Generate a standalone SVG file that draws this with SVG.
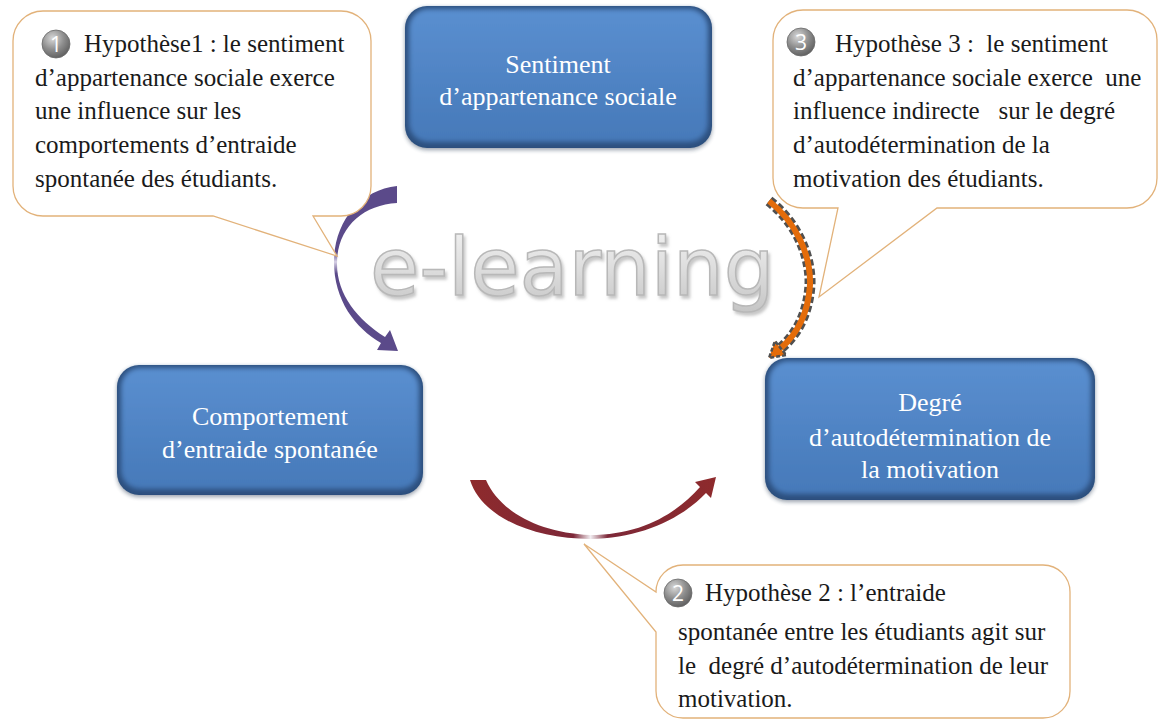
<svg xmlns="http://www.w3.org/2000/svg" width="1160" height="723" viewBox="0 0 1160 723">
<defs>
<style>
.ct{font-family:"Liberation Serif","Times New Roman",serif;font-size:25px;fill:#1a1a1a}
.nt{font-family:"Liberation Serif","Times New Roman",serif;font-size:26px;fill:#ffffff;text-anchor:middle}
.callout{fill:#ffffff;stroke:#e2b27a;stroke-width:1.3}
.rim{fill:#2c4f7e}
.face{fill:url(#blue)}
.bd{fill:url(#badge);stroke:#6a6a6a;stroke-width:0.8}
.bn{font-family:"Open Sans","Liberation Sans",sans-serif;font-size:21px;fill:#ffffff;text-anchor:middle}
.el{font-family:"DejaVu Sans",Verdana,sans-serif;font-size:80px}
</style>
<linearGradient id="blue" x1="0" y1="0" x2="0" y2="1">
<stop offset="0" stop-color="#5a8fd0"/>
<stop offset="1" stop-color="#4679b9"/>
</linearGradient>
<radialGradient id="badge" cx="0.38" cy="0.3" r="0.8">
<stop offset="0" stop-color="#d8d8d8"/>
<stop offset="0.5" stop-color="#8e8e8e"/>
<stop offset="1" stop-color="#555555"/>
</radialGradient>
<linearGradient id="elg" x1="0" y1="0" x2="0" y2="1">
<stop offset="0" stop-color="#f4f4f4"/>
<stop offset="0.5" stop-color="#dedede"/>
<stop offset="1" stop-color="#c4c4c4"/>
</linearGradient>
<linearGradient id="purp" x1="0" y1="0" x2="0" y2="1">
<stop offset="0" stop-color="#5b4a8a"/>
<stop offset="0.4" stop-color="#5b4a8a"/>
<stop offset="0.46" stop-color="#d8d2e6"/>
<stop offset="0.53" stop-color="#5b4a8a"/>
<stop offset="1" stop-color="#5b4a8a"/>
</linearGradient>
<linearGradient id="red" x1="0" y1="0" x2="1" y2="0">
<stop offset="0" stop-color="#8e2a2c"/>
<stop offset="0.42" stop-color="#7d2838"/>
<stop offset="0.49" stop-color="#f2eef2"/>
<stop offset="0.56" stop-color="#7d2838"/>
<stop offset="1" stop-color="#8e2a2c"/>
</linearGradient>
<filter id="soft" x="-5%" y="-5%" width="110%" height="110%">
<feGaussianBlur stdDeviation="2.5"/>
</filter>
<filter id="shd" x="-10%" y="-10%" width="120%" height="130%">
<feGaussianBlur stdDeviation="2"/>
</filter>
<filter id="eshd" x="-5%" y="-10%" width="110%" height="130%">
<feGaussianBlur in="SourceAlpha" stdDeviation="1.8" result="b"/>
<feOffset in="b" dx="2" dy="3" result="o"/>
<feFlood flood-color="#9a9a9a" flood-opacity="0.55"/>
<feComposite in2="o" operator="in" result="s"/>
<feMerge><feMergeNode in="s"/><feMergeNode in="SourceGraphic"/></feMerge>
</filter>
</defs>
<rect width="1160" height="723" fill="#ffffff"/>

<g id="elearning">
<text class="el" x="370" y="295" fill="url(#elg)" stroke="#b8b8b8" stroke-width="1.5" filter="url(#eshd)">e-learning</text>
</g>

<g id="connectors">
<path id="arrow-h1" fill="url(#purp)" d="M397,186 C360,190 334,222 334,262 C334,300 355,328 381,343 L377,350 L398,351 L390,330 L385,337 C358,320 337,295 337,264 C337,228 362,205 397,203 Z"/>
<path id="arrow-h2" fill="url(#red)" d="M470,480 L486,480 C500,512 540,533 590,535 C640,535 675,515 700,487 L695,482 L716,477 L711,498 L706,493 C680,520 640,538 590,539 C535,539 482,518 470,480 Z"/>
<g id="arrow-h3">
<path d="M769,201 C796,222 811,255 810,285 C808,315 796,335 781,348" fill="none" stroke="#505050" stroke-width="11" stroke-dasharray="6 3"/>
<path d="M769,201 C796,222 811,255 810,285 C808,315 796,335 781,348" fill="none" stroke="#e46c0a" stroke-width="6"/>
<polygon points="786,355 769,358 775,341" fill="#e46c0a" stroke="#505050" stroke-width="2.5" stroke-dasharray="4 2"/>
</g>
</g>

<g id="node-sentiment">
<rect x="405" y="8" width="307" height="142" rx="22" fill="#1c2e48" opacity="0.45" filter="url(#shd)"/>
<rect class="rim" x="405" y="6" width="307" height="142" rx="22"/>
<rect class="face" x="409" y="9" width="299" height="133" rx="19" filter="url(#soft)"/>
<text class="nt" x="558" y="73">Sentiment</text>
<text class="nt" x="558" y="105">d’appartenance sociale</text>
</g>

<g id="node-comportement">
<rect x="117" y="367" width="306" height="130" rx="22" fill="#1c2e48" opacity="0.45" filter="url(#shd)"/>
<rect class="rim" x="117" y="365" width="306" height="130" rx="22"/>
<rect class="face" x="121" y="368" width="298" height="121" rx="19" filter="url(#soft)"/>
<text class="nt" x="270" y="425">Comportement</text>
<text class="nt" x="270" y="458">d’entraide spontanée</text>
</g>

<g id="node-degre">
<rect x="765" y="360" width="330" height="142" rx="22" fill="#1c2e48" opacity="0.45" filter="url(#shd)"/>
<rect class="rim" x="765" y="358" width="330" height="142" rx="22"/>
<rect class="face" x="769" y="361" width="322" height="133" rx="19" filter="url(#soft)"/>
<text class="nt" x="930" y="411">Degré</text>
<text class="nt" x="930" y="446">d’autodétermination de</text>
<text class="nt" x="930" y="478">la motivation</text>
</g>

<g id="callout-h1">
<path class="callout" d="M43,11 H341 A30,30 0 0 1 371,41 V186 A30,30 0 0 1 341,216 H313 L337,256 L213,216 H43 A30,30 0 0 1 13,186 V41 A30,30 0 0 1 43,11 Z"/>
<circle class="bd" cx="56" cy="44" r="14"/>
<text class="bn" x="56" y="52">1</text>
<text class="ct" x="84" y="52">Hypothèse1 : le sentiment</text>
<text class="ct" x="35" y="86">d’appartenance sociale exerce</text>
<text class="ct" x="35" y="119">une influence sur les</text>
<text class="ct" x="35" y="153">comportements d’entraide</text>
<text class="ct" x="35" y="187">spontanée des étudiants.</text>
</g>

<g id="callout-h3">
<path class="callout" d="M803,10 H1127 A30,30 0 0 1 1157,40 V178 A30,30 0 0 1 1127,208 H937 L819,297 L838,208 H803 A30,30 0 0 1 773,178 V40 A30,30 0 0 1 803,10 Z"/>
<circle class="bd" cx="801" cy="42" r="14"/>
<text class="bn" x="801" y="50">3</text>
<text class="ct" x="835" y="52" xml:space="preserve">Hypothèse 3 :  le sentiment</text>
<text class="ct" x="793" y="86" xml:space="preserve">d’appartenance sociale exerce  une</text>
<text class="ct" x="793" y="119" xml:space="preserve">influence indirecte   sur le degré</text>
<text class="ct" x="793" y="153">d’autodétermination de la</text>
<text class="ct" x="793" y="187">motivation des étudiants.</text>
</g>

<g id="callout-h2">
<path class="callout" d="M683,565 H1043 A27,27 0 0 1 1070,592 V691 A27,27 0 0 1 1043,718 H683 A27,27 0 0 1 656,691 V632 L584,544 L656,592 A27,27 0 0 1 683,565 Z"/>
<circle class="bd" cx="678" cy="593" r="14"/>
<text class="bn" x="678" y="601">2</text>
<text class="ct" x="705" y="601">Hypothèse 2 : l’entraide</text>
<text class="ct" x="678" y="640">spontanée entre les étudiants agit sur</text>
<text class="ct" x="678" y="674" xml:space="preserve">le  degré d’autodétermination de leur</text>
<text class="ct" x="678" y="707">motivation.</text>
</g>
</svg>
